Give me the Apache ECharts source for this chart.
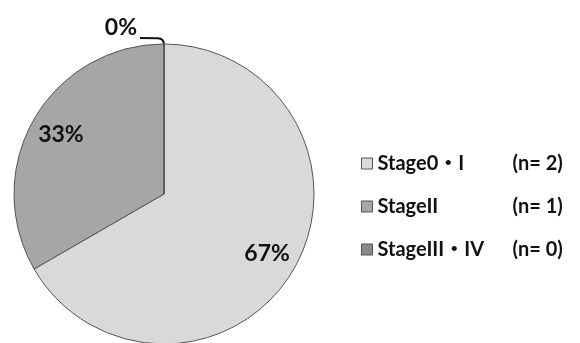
<!DOCTYPE html>
<html>
<head>
<meta charset="utf-8">
<script src="https://cdn.jsdelivr.net/npm/echarts@6/dist/echarts.min.js"></script>
<style>html,body{margin:0;padding:0;background:#fff;}#c{width:580px;height:343px;}</style>
</head>
<body>
<div id="c"></div>
<script>
const categories = ['Stage0・I', 'StageII', 'StageIII・IV'];
const counts = [2, 1, 0];
const colors = ['#d9d9d9', '#a6a6a6', '#8a8a8a'];
const FONT = 'Lato, "Noto Sans CJK JP", sans-serif';

const mainData = categories.map((name, i) => ({
  name: name,
  value: counts[i],
  itemStyle: { color: colors[i] },
  label: { show: counts[i] === 0 },
  labelLine: { show: counts[i] === 0 }
}));
const labelData = categories.map((name, i) => ({
  name: name,
  value: counts[i],
  label: { show: counts[i] !== 0 }
}));

const chart = echarts.init(document.getElementById('c'));
chart.setOption({
  animation: false,
  backgroundColor: '#fff',
  legend: {
    orient: 'vertical',
    left: 356,
    top: 147,
    itemWidth: 11,
    itemHeight: 11,
    itemGap: 20,
    icon: 'rect',
    itemStyle: { borderColor: '#555', borderWidth: 1 },
    data: categories,
    formatter: function (name) {
      const i = categories.indexOf(name);
      return '{a|' + name + '}{b|(n= ' + counts[i] + ')}';
    },
    textStyle: {
      fontFamily: FONT, fontSize: 20, color: '#111', fontWeight: 'bold', lineHeight: 23,
      rich: {
        a: { fontFamily: FONT, fontSize: 20, fontWeight: 'bold', width: 135, color: '#111', lineHeight: 23 },
        b: { fontFamily: FONT, fontSize: 20, fontWeight: 'bold', color: '#111', lineHeight: 23 }
      }
    }
  },
  series: [
    {
      type: 'pie',
      center: [164, 194],
      radius: 150,
      startAngle: 90,
      clockwise: true,
      avoidLabelOverlap: false,
      data: mainData,
      itemStyle: { borderColor: '#555', borderWidth: 1 },
      label: {
        position: 'outside',
        fontFamily: FONT,
        fontSize: 23,
        fontWeight: 'bold',
        color: '#111',
        lineHeight: 20,
        distanceToLabelLine: 3,
        formatter: p => Math.round(p.percent) + '%\n '
      },
      labelLine: { length: 6, length2: 24, smooth: 0.6, lineStyle: { color: '#111', width: 2 } },
      emphasis: { disabled: true }
    },
    {
      type: 'pie',
      center: [164, 194],
      radius: [82, 150],
      startAngle: 90,
      clockwise: true,
      silent: true,
      data: labelData,
      itemStyle: { color: 'rgba(0,0,0,0)' },
      label: {
        position: 'inside',
        fontFamily: FONT,
        fontSize: 23,
        fontWeight: 'bold',
        color: '#111',
        formatter: p => Math.round(p.percent) + '%'
      },
      labelLine: { show: false },
      emphasis: { disabled: true }
    }
  ]
});
</script>
</body>
</html>
